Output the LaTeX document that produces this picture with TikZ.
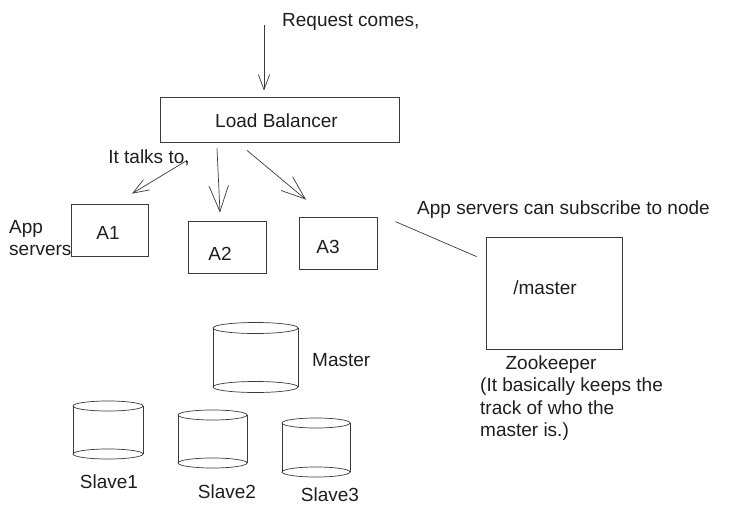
\documentclass[tikz,border=0pt]{standalone}
\usepackage{fontspec}
\setmainfont{Liberation Sans}
\usetikzlibrary{arrows.meta}
\definecolor{ink}{HTML}{1E1E1E}
\definecolor{stroke}{HTML}{3A3A3A}
\tikzset{
  txt/.style={text=ink, font=\fontsize{19}{22.5}\selectfont, inner sep=0pt},
  box/.style={draw=stroke, line width=0.8pt, inner sep=0pt},
  edge/.style={draw=stroke, line width=0.7pt},
  arr/.style={edge, -{Straight Barb[length=#1pt, width=0.75*#1pt, line width=0.7pt]}},
  pics/dbcyl/.style n args={3}{code={
    \draw[edge] (0,0) ellipse [x radius=#1pt, y radius=#3pt];
    \draw[edge] (0,#2) ellipse [x radius=#1pt, y radius=#3pt];
    \draw[edge] (-#1,0) -- (-#1,#2) (#1,0) -- (#1,#2);
  }}
}
\begin{document}
\begin{tikzpicture}[x=1pt, y=-1pt]
  \useasboundingbox (0,0) rectangle (732,506);

  % incoming request and the load balancer
  \node[txt, anchor=west] (req) at (282,22) {Request comes,};
  \coordinate (reqtail) at (264,25);
  \node[box, minimum width=239pt, minimum height=45pt] (lb) at (279.5,119.5) {};
  \node[txt] (lbtxt) at (276.5,121) {Load Balancer};
  \draw[arr=15] (reqtail) -- ([shift={(-15.5,-6)}]lb.north);

  % app servers
  \node[box, minimum width=77pt, minimum height=52pt] (a1) at (109.5,230) {};
  \node[box, minimum width=78pt, minimum height=52pt] (a2) at (227,247) {};
  \node[box, minimum width=78pt, minimum height=52pt] (a3) at (338,243) {};
  \node[txt] (a1t) at (108,233) {A1};
  \node[txt] (a2t) at (220,254) {A2};
  \node[txt] (a3t) at (328,247) {A3};
  \node[txt, align=left, anchor=west] (appsrv) at (9,238) {App\\servers};
  \node[txt] (talks) at (149,158) {It talks to,};

  \draw[arr=16] ([shift={(-92.5,18)}]lb.south) -- ([shift={(22.5,-10)}]a1.north);
  \draw[arr=26] ([shift={(-62.5,6)}]lb.south) -- ([shift={(-7,-8)}]a2.north);
  \draw[arr=24] ([shift={(-32.5,8)}]lb.south) -- ([shift={(-32,-17)}]a3.north);

  % zookeeper
  \node[txt, anchor=west] (sub) at (417,210) {App servers can subscribe to node};
  \node[box, minimum width=136pt, minimum height=112pt] (zk) at (554,293) {};
  \node[txt] (zkm) at (545,288) {/master};
  \node[txt] (zkl) at (551,365) {Zookeeper};
  \node[txt, align=left, anchor=north west] (zkn) at (480,378)
    {(It basically keeps the\\track of who the\\master is.)};
  \draw[edge] ([shift={(18,5)}]a3.north east) -- ([shift={(-9,20)}]zk.north west);

  % databases
  \pic (master) at (255.5,328) {dbcyl={42.5}{59}{5.5}};
  \pic (slave1) at (108,406) {dbcyl={35}{48}{5}};
  \pic (slave2) at (212.5,415) {dbcyl={34.5}{48}{5}};
  \pic (slave3) at (316,423) {dbcyl={34}{49}{5}};
  \node[txt, anchor=west] (mlab) at (312,360) {Master};
  \node[txt] (s1lab) at (109,482) {Slave1};
  \node[txt] (s2lab) at (227,492) {Slave2};
  \node[txt] (s3lab) at (330,495) {Slave3};
\end{tikzpicture}
\end{document}
